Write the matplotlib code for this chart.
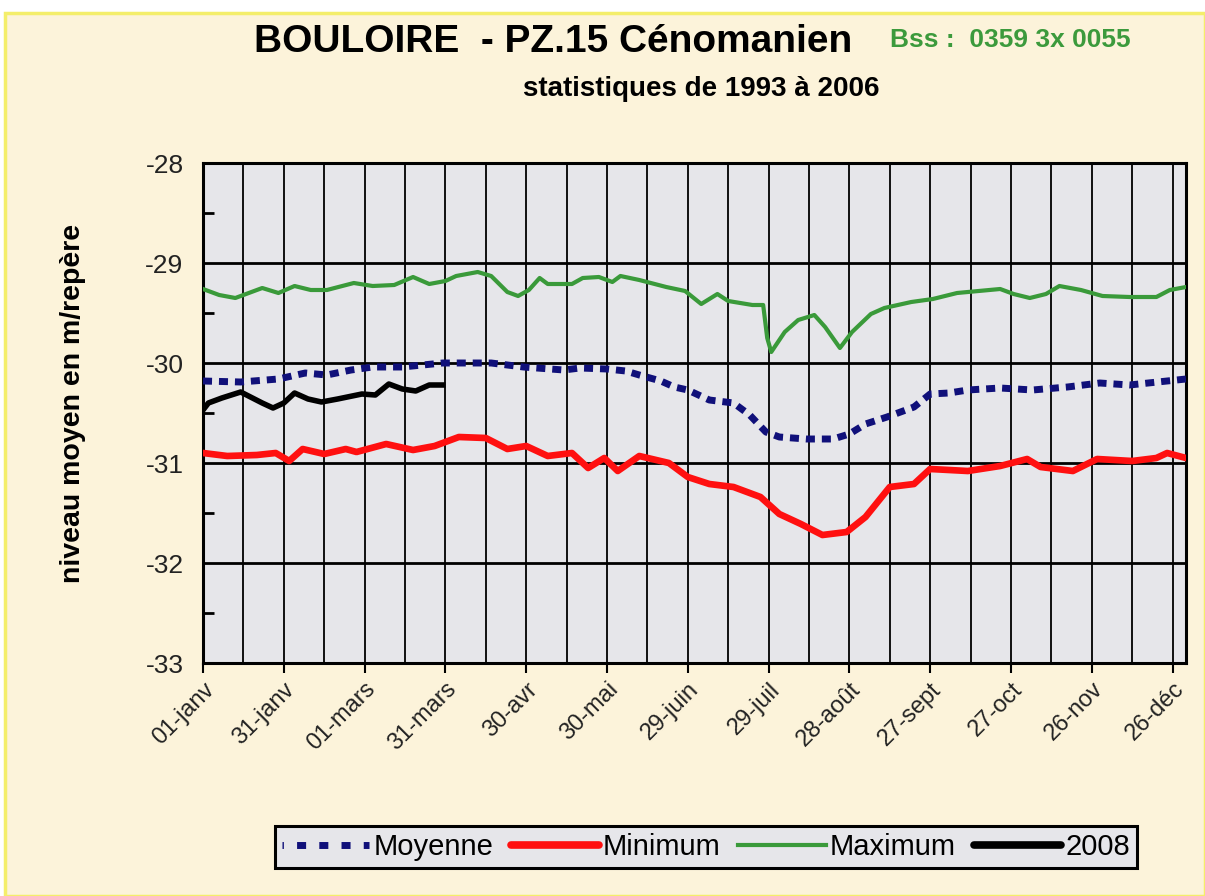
import matplotlib
matplotlib.use("Agg")
import matplotlib.pyplot as plt
from matplotlib.patches import Rectangle
from matplotlib.lines import Line2D

plt.rcParams['font.family'] = ['Liberation Sans', 'DejaVu Sans']

# ---- data (day of year, level in m) ----
tick_labels = ["01-janv", "31-janv", "01-mars", "31-mars", "30-avr", "30-mai", "29-juin",
               "29-juil", "28-août", "27-sept", "27-oct", "26-nov", "26-déc"]
tick_days = [0, 30, 60, 90, 120, 150, 180, 210, 240, 270, 300, 330, 360]

max_days = [0, 6, 12, 22, 28, 34, 40, 46, 56, 63, 71, 78, 84, 90, 94, 102, 107, 113, 117, 121,
            125, 128, 137, 141, 147, 152, 155, 162, 172, 179, 185, 191, 195, 204, 208, 209.5,
            211, 216, 221, 227, 231, 236.5, 241, 248, 253, 263, 271, 280, 288, 296, 301, 307,
            313, 318, 326, 334, 344, 354, 359, 365]
max_vals = [-29.26, -29.32, -29.35, -29.25, -29.3, -29.23, -29.27, -29.27, -29.2, -29.23, -29.22,
            -29.14, -29.21, -29.18, -29.13, -29.09, -29.13, -29.29, -29.33, -29.27,
            -29.15, -29.21, -29.21, -29.15, -29.14, -29.19, -29.13, -29.17, -29.24, -29.28,
            -29.41, -29.31, -29.38, -29.42, -29.42, -29.75,
            -29.89, -29.69, -29.57, -29.52, -29.64, -29.85, -29.69, -29.51, -29.45, -29.39,
            -29.36, -29.3, -29.28, -29.26, -29.31, -29.35,
            -29.31, -29.23, -29.27, -29.33, -29.34, -29.34, -29.27, -29.24]

moy_days = [0, 14, 28, 38, 46, 55, 63, 74, 89, 107, 119, 134, 140, 150, 157, 162, 170, 175, 180,
            188, 197, 203, 209, 214, 224, 234, 240, 246, 254, 264, 270, 277, 284, 296, 308,
            321, 333, 344, 365]
moy_vals = [-30.18, -30.19, -30.16, -30.1, -30.12, -30.07, -30.04, -30.04, -30.0, -30.0, -30.04,
            -30.07, -30.05, -30.06, -30.08, -30.12, -30.18, -30.24, -30.27,
            -30.37, -30.4, -30.52, -30.69, -30.74, -30.76, -30.76, -30.71, -30.61, -30.54,
            -30.44, -30.31, -30.3, -30.27, -30.25, -30.27,
            -30.24, -30.2, -30.22, -30.16]

min_days = [0, 9, 20, 27, 32, 37, 45, 53, 57, 68, 78, 86, 95, 105, 113, 120, 128, 137, 143, 149,
            154, 162, 173, 180, 188, 197, 207, 214, 222, 230, 239, 246, 255, 264, 270, 284,
            296, 306, 311, 323, 332, 345, 354, 358, 365]
min_vals = [-30.9, -30.93, -30.92, -30.9, -30.98, -30.86, -30.91, -30.86, -30.89, -30.81, -30.87,
            -30.83, -30.74, -30.75, -30.86, -30.83, -30.93, -30.9, -31.05, -30.95,
            -31.08, -30.93, -31.0, -31.14, -31.21, -31.24, -31.34, -31.51, -31.61, -31.72,
            -31.69, -31.54, -31.24, -31.21, -31.06, -31.08,
            -31.03, -30.96, -31.04, -31.08, -30.96, -30.98, -30.95, -30.9, -30.95]

y2008_days = [0, 2, 7, 14, 22, 26, 30, 34, 39, 44, 50, 59, 64, 69, 74, 79, 84, 89]
y2008_vals = [-30.47, -30.4, -30.35, -30.29, -30.4, -30.45, -30.4, -30.3, -30.36, -30.39, -30.36,
              -30.31, -30.32, -30.21, -30.26, -30.28, -30.22, -30.22]

# ---- figure ----
W, H = 1205, 896
fig = plt.figure(figsize=(W / 100, H / 100), dpi=100)
fig.patch.set_facecolor('white')
bg = Rectangle((5 / W, 0), 1 - 5 / W, 1 - 13 / H, transform=fig.transFigure,
               facecolor='#FCF3DA', edgecolor='#F4EE6A', linewidth=2.5, zorder=-10)
fig.patches.append(bg)

ax = fig.add_axes([203 / W, 233 / H, 983 / W, 500 / H])
ax.set_facecolor('#E6E6EA')
ax.set_xlim(0, 365)
ax.set_ylim(-33, -28)

ax.plot(max_days, max_vals, color='#3A9A3A', lw=3.0, solid_joinstyle='round', zorder=3,
        label='Maximum')
ax.plot(moy_days, moy_vals, color='#10107A', lw=5.0, linestyle=(0, (1.3, 1.0)),
        dash_capstyle='butt', zorder=3, label='Moyenne')
ax.plot(min_days, min_vals, color='#FF1010', lw=4.8, solid_joinstyle='round', zorder=3,
        label='Minimum')
ax.plot(y2008_days, y2008_vals, color='black', lw=4.0, solid_joinstyle='round', zorder=3,
        label='2008')

# grid
for d in range(0, 366, 15):
    ax.axvline(d, color='black', lw=1.3, zorder=1)
for v in [-29, -30, -31, -32]:
    ax.axhline(v, color='black', lw=2.0, zorder=1)

ax.set_xticks(tick_days)
ax.set_xticklabels(tick_labels, rotation=45, ha='right', rotation_mode='anchor', fontsize=17,
                   color='#222222')
ax.tick_params(axis='x', direction='out', length=7, width=1.5, pad=4)
ax.set_yticks([-33, -32, -31, -30, -29, -28])
ax.set_yticklabels(['-33', '-32', '-31', '-30', '-29', '-28'], fontsize=19, color='#222222')
ax.set_yticks([-32.5, -31.5, -30.5, -29.5, -28.5], minor=True)
ax.tick_params(axis='y', which='major', length=0, pad=14)
ax.tick_params(axis='y', which='minor', direction='in', length=8, width=2)
for s in ax.spines.values():
    s.set_linewidth(2.2)
    s.set_color('black')

ax.set_ylabel('niveau moyen en m/repère', fontsize=20.5, fontweight='bold')
ax.yaxis.set_label_coords((86 - 203) / 983, 0.52)

fig.text(553 / W, 1 - 42 / H, 'BOULOIRE  - PZ.15 Cénomanien', fontsize=28, fontweight='bold',
         ha='center', va='center')
fig.text(1010 / W, 1 - 40 / H, 'Bss :  0359 3x 0055', fontsize=19, fontweight='bold',
         color='#3C9A3C', ha='center', va='center')
fig.text(701 / W, 1 - 89 / H, 'statistiques de 1993 à 2006', fontsize=20, fontweight='bold',
         ha='center', va='center')

handles = [
    Line2D([], [], color='#10107A', lw=5.0, linestyle=(7.5, (1.3, 1.9)), dash_capstyle='butt'),
    Line2D([], [], color='#FF1010', lw=5.5, solid_capstyle='round'),
    Line2D([], [], color='#3A9A3A', lw=3.0),
    Line2D([], [], color='black', lw=5.5, solid_capstyle='round'),
]
labels = ['Moyenne', 'Minimum', 'Maximum', '2008']
leg = fig.legend(handles, labels, loc='center', bbox_to_anchor=(706 / W, 1 - 847 / H), ncol=4,
                 fontsize=21, frameon=True, fancybox=False, handlelength=3.0, handletextpad=0.15,
                 columnspacing=0.6, borderpad=0.25, borderaxespad=0, edgecolor='black',
                 facecolor='#E6E6EA')
leg.get_frame().set_linewidth(2.2)
leg.get_frame().set_alpha(1)

fig.savefig('out.png', dpi=100, facecolor=fig.get_facecolor())
